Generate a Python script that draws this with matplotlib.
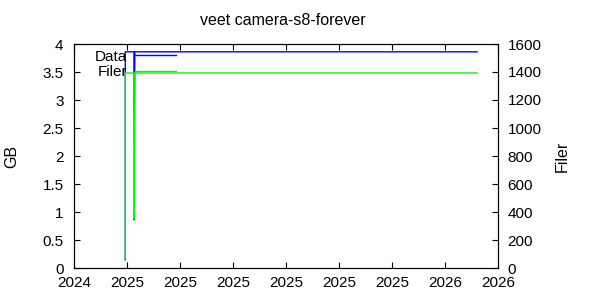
import pandas as pd
import matplotlib
matplotlib.use('Agg')
import matplotlib.pyplot as plt
import matplotlib.dates as mdates
from matplotlib.ticker import FormatStrFormatter

# data
dates = pd.to_datetime(['2025-01-29', '2025-01-29', '2025-02-08',
                        '2025-02-08', '2025-02-09', '2026-03-10'])
data_gb = [0.15, 3.86, 3.86, 0.86, 3.86, 3.86]
filer = [70, 1393, 1393, 350, 1393, 1393]

tick_dates = pd.date_range('2024-12-01', periods=9, freq='61D')

plt.rcParams['font.family'] = ['Liberation Sans', 'DejaVu Sans']
plt.rcParams['font.size'] = 11

fig = plt.figure(figsize=(6, 3), dpi=100)
ax = fig.add_axes([74 / 600, 32 / 300, 424 / 600, 224 / 300])
ax2 = ax.twinx()

l1, = ax.plot(dates, data_gb, color='#0000ff', lw=1, label='Data')
l2, = ax2.plot(dates, filer, color='#00ff00', lw=1, label='Filer')

ax.set_xlim(tick_dates[0], tick_dates[-1])
ax.set_xticks(tick_dates)
ax.xaxis.set_major_formatter(mdates.DateFormatter('%Y'))
ax.set_ylim(0, 4)
ax.set_yticks([0, 0.5, 1, 1.5, 2, 2.5, 3, 3.5, 4])
ax.yaxis.set_major_formatter(FormatStrFormatter('%g'))
ax2.set_ylim(0, 1600)
ax2.set_yticks(range(0, 1601, 200))

ax.tick_params(axis='x', direction='in', top=True, length=4, pad=5.5, labelsize=11)
ax.tick_params(axis='y', direction='in', length=4, pad=7.5, labelsize=11)
ax2.tick_params(axis='y', direction='in', length=4, pad=7, labelsize=11)

ax.set_ylabel('GB', fontsize=11.5)
ax.yaxis.set_label_coords(-0.130, 0.5)
ax2.set_ylabel('Filer', fontsize=11.5)
ax2.yaxis.set_label_coords(1.134, 0.5)

fig.text(283 / 600, 0.933, 'veet camera-s8-forever', ha='center', va='center', fontsize=11.5)

ax2.legend(handles=[l1, l2], loc='upper left', bbox_to_anchor=(0.0495, 0.974),
           frameon=False, markerfirst=False, alignment='right',
           handlelength=2.7, handletextpad=0.52, labelspacing=0.1,
           borderpad=0, borderaxespad=0, fontsize=11)

fig.savefig('out.png', dpi=100)
